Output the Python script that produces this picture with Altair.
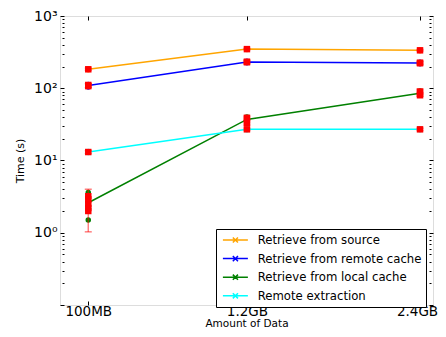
import altair as alt
import pandas as pd

# ---------------- data ----------------
series = ["Retrieve from source", "Retrieve from remote cache",
          "Retrieve from local cache", "Remote extraction"]
colors = ["#FFA500", "#0000FF", "#008000", "#00FFFF"]
x_gb = [0.1, 1.2, 2.4]
x_labels = ["100MB", "1.2GB", "2.4GB"]

source_mean = [183, 348, 335]
remote_mean = [109, 231, 224]
local_mean = [2.6, 37, 85]
extract_mean = [13.1, 27, 27]

source_err = [(177, 190), (340, 357), (328, 344)]
remote_err = [(102, 116), (221, 241), (215, 233)]
local_err = [(1.03, 4.0), (31, 41), (77, 97)]
extract_err = [(12.5, 13.7), (26, 28), (26, 28)]

# individual runs (drawn as dots in the series colour)
source_runs = [[180, 186], [344, 352], [331, 339]]
remote_runs = [[104, 113], [226, 236], [219, 229]]
local_runs = [[3.6, 3.1, 2.6, 2.3, 1.5], [33, 40], [92, 80]]
extract_runs = [[12.9, 13.3], [26.6, 27.4], [26.6, 27.4]]

# red square markers
source_sq = [[183], [348], [335]]
remote_sq = [[107, 111], [229, 233], [222, 226]]
local_sq = [[3.2, 2.9, 2.5, 2.2, 2.0], [33, 36, 39], [80, 85, 90]]
extract_sq = [[13.1], [27], [27]]

y_major = [0.1, 1, 10, 100, 1000]
y_minor = [m * d for d in [0.1, 1, 10, 100] for m in range(2, 10)]

# ---------------- tables ----------------
means = [source_mean, remote_mean, local_mean, extract_mean]
errs = [source_err, remote_err, local_err, extract_err]
runs = [source_runs, remote_runs, local_runs, extract_runs]
sqs = [source_sq, remote_sq, local_sq, extract_sq]

line_rows, err_rows, run_rows, sq_rows = [], [], [], []
for s, m, e, r, q in zip(series, means, errs, runs, sqs):
    for i, x in enumerate(x_gb):
        line_rows.append({"series": s, "x": x, "y": m[i]})
        err_rows.append({"series": s, "x": x, "lo": e[i][0], "hi": e[i][1]})
        for v in r[i]:
            run_rows.append({"series": s, "x": x, "y": v})
        for v in q[i]:
            sq_rows.append({"series": s, "x": x, "y": v})

line_df = pd.DataFrame(line_rows)
err_df = pd.DataFrame(err_rows)
run_df = pd.DataFrame(run_rows)
sq_df = pd.DataFrame(sq_rows)

# ---------------- scales / axes ----------------
xscale = alt.Scale(domain=[-0.096, 2.49], nice=False, zero=False)
yscale = alt.Scale(type="log", domain=[0.1, 1000], nice=False)
cscale = alt.Scale(domain=series, range=colors)

label_expr_x = ("datum.value==0.1?'%s':datum.value==1.2?'%s':'%s'" % tuple(x_labels))
label_expr_y = ("datum.value==1?'10\u2070':datum.value==10?'10\u00b9':"
                "datum.value==100?'10\u00b2':datum.value==1000?'10\u00b3':''")
major_test = "indexof([0.1,1,10,100,1000], datum.value) >= 0"

x_axis_bottom = alt.Axis(values=x_gb, labelExpr=label_expr_x, title="Amount of Data",
                         domain=False, grid=False, tickSize=4, offset=-4,
                         tickColor="black", labelFontSize=13.5, labelPadding=-1,
                         labelOffset={"condition": {"test": "datum.value == 2.4", "value": -3},
                                      "value": 0},
                         titleFontSize=10.5, titleBaseline="alphabetic", titleY=25,
                         labelColor="black",
                         titleFontWeight="normal", titleColor="black",
                         labelFlush=False, labelBound=False, labelOverlap=False)
y_axis_left = alt.Axis(values=y_major + y_minor, labelExpr=label_expr_y, title="Time (s)",
                       domain=False, grid=False, offset=-4, tickColor="black",
                       tickSize={"condition": {"test": major_test, "value": 4}, "value": 2},
                       labelFontSize=14, labelPadding=3, titleFontSize=11,
                       titlePadding=8, labelColor="black", titleColor="black",
                       titleFontWeight="normal", labelBound=False, labelFlush=False)

X = alt.X("x:Q", scale=xscale, axis=x_axis_bottom)
Y = alt.Y("y:Q", scale=yscale, axis=y_axis_left)

# line with an 'x' marker, as in the matplotlib legend
legend_path = "M-0.67,0L3.41,0M0.95,-0.42L1.79,0.42M0.95,0.42L1.79,-0.42"

lines = alt.Chart(line_df).mark_line(strokeWidth=1.5).encode(
    x=X, y=Y,
    color=alt.Color("series:N", scale=cscale, sort=series,
                    legend=alt.Legend(title=None, orient="none", legendX=156, legendY=213,
                                      symbolType=legend_path, symbolSize=150,
                                      symbolStrokeWidth=1.5, labelFontSize=11.7,
                                      labelColor="black", strokeColor="black",
                                      fillColor="white", padding=4, rowPadding=4.6,
                                      labelOffset=23.7, cornerRadius=0, labelLimit=300,
                                      labelFont="DejaVu Sans")),
    order=alt.Order("x:Q"),
)

dots = alt.Chart(run_df).mark_circle(size=30, opacity=1).encode(
    x=alt.X("x:Q", scale=xscale), y=alt.Y("y:Q", scale=yscale),
    color=alt.Color("series:N", scale=cscale, legend=None),
)

bars = alt.Chart(err_df).mark_rule(color="#FF0000", opacity=0.5, strokeWidth=1.5).encode(
    x=alt.X("x:Q", scale=xscale), y=alt.Y("lo:Q", scale=yscale), y2="hi:Q",
)
cap_lo = alt.Chart(err_df).mark_tick(color="#FF0000", opacity=0.5, orient="horizontal",
                                     size=7, thickness=1.5).encode(
    x=alt.X("x:Q", scale=xscale), y=alt.Y("lo:Q", scale=yscale),
)
cap_hi = alt.Chart(err_df).mark_tick(color="#FF0000", opacity=0.5, orient="horizontal",
                                     size=7, thickness=1.5).encode(
    x=alt.X("x:Q", scale=xscale), y=alt.Y("hi:Q", scale=yscale),
)
squares = alt.Chart(sq_df).mark_square(size=42, color="#FF0000", opacity=1, filled=True).encode(
    x=alt.X("x:Q", scale=xscale), y=alt.Y("y:Q", scale=yscale),
)

main = alt.layer(lines, dots, bars, cap_lo, cap_hi, squares)

# mirrored tick-only axes on top and right (matplotlib box)
mirror = alt.Chart(line_df).mark_point(opacity=0).encode(
    x=alt.X("x:Q", scale=xscale,
            axis=alt.Axis(orient="top", values=x_gb, labels=False, title=None,
                          domain=False, grid=False, tickSize=4, offset=-4, tickColor="black")),
    y=alt.Y("y:Q", scale=yscale,
            axis=alt.Axis(orient="right", values=y_major + y_minor, labels=False, title=None,
                          domain=False, grid=False, offset=-4, tickColor="black",
                          tickSize={"condition": {"test": major_test, "value": 4}, "value": 2})),
)

chart = alt.layer(main, mirror).resolve_axis(x="independent", y="independent").properties(
    width=373, height=289,
    autosize=alt.AutoSizeParams(type="none"),
    padding={"left": 52, "top": 8, "right": 5, "bottom": 24},
).configure_view(stroke="black", strokeWidth=1.2).configure(
    font="DejaVu Sans"
).configure_axis(labelFont="DejaVu Sans", titleFont="DejaVu Sans")

chart.save("out.html", embed_options={"renderer": "svg", "actions": False})
